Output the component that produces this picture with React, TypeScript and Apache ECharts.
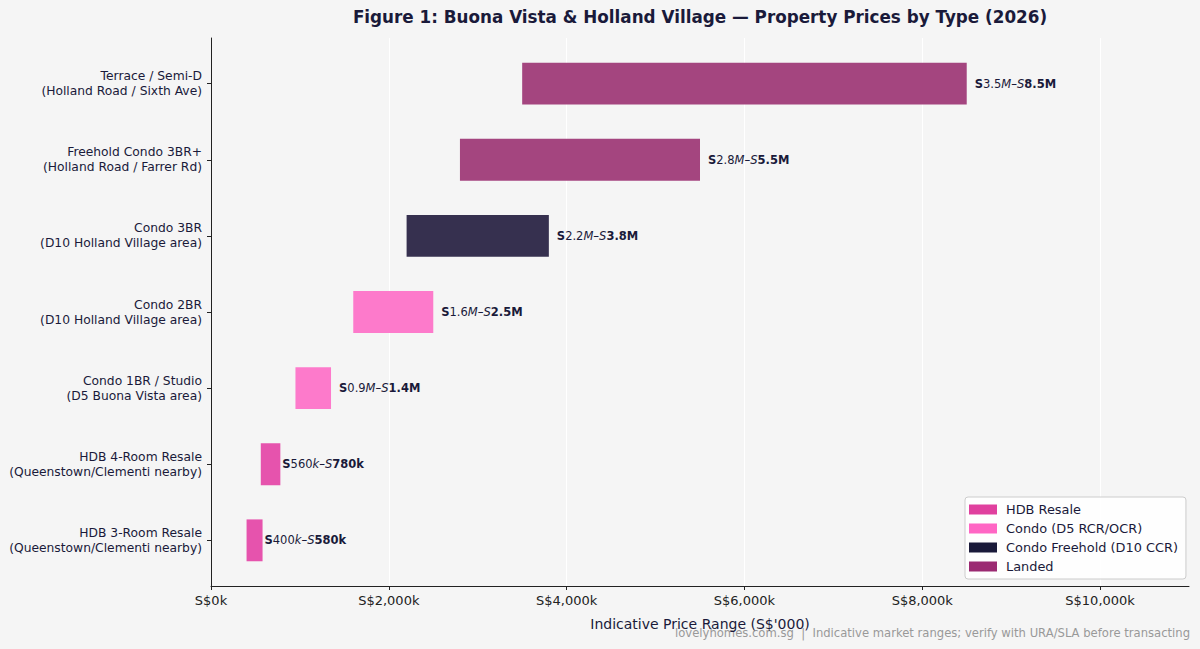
import React, { useEffect, useRef } from "react";
import * as echarts from "echarts";

const categories = [
  "Terrace / Semi-D\n(Holland Road / Sixth Ave)",
  "Freehold Condo 3BR+\n(Holland Road / Farrer Rd)",
  "Condo 3BR\n(D10 Holland Village area)",
  "Condo 2BR\n(D10 Holland Village area)",
  "Condo 1BR / Studio\n(D5 Buona Vista area)",
  "HDB 4-Room Resale\n(Queenstown/Clementi nearby)",
  "HDB 3-Room Resale\n(Queenstown/Clementi nearby)",
];
const lows = [3500, 2800, 2200, 1600, 950, 560, 400];
const highs = [8500, 5500, 3800, 2500, 1350, 780, 580];
const groups = ["Landed", "Landed", "Condo Freehold (D10 CCR)", "Condo (D5 RCR/OCR)", "Condo (D5 RCR/OCR)", "HDB Resale", "HDB Resale"];
const groupNames = ["HDB Resale", "Condo (D5 RCR/OCR)", "Condo Freehold (D10 CCR)", "Landed"];
const barColors = ["#e653ad", "#fd7acb", "#36304f", "#a4457f"];
const legendColors = ["#e0409e", "#ff66c4", "#1a1a3a", "#9b2a72"];
const xTicks = [0, 2000, 4000, 6000, 8000, 10000];

const FONT = "DejaVu Sans";
const DARK = "#1a1a3a";

function fmtPart(v: number, useM: boolean) {
  return useM ? (v / 1000).toFixed(1) : String(v);
}

export default function App() {
  const ref = useRef<HTMLDivElement>(null);
  useEffect(() => {
    if (!ref.current) return;
    const chart = echarts.init(ref.current, undefined, { renderer: "svg" });
    const series = groupNames.map((g, gi) => {
      const data: number[][] = [];
      categories.forEach((_, i) => {
        if (groups[i] === g) data.push([lows[i], highs[i], i]);
      });
      return {
        type: "custom",
        name: g,
        itemStyle: { color: legendColors[gi] },
        encode: { x: [0, 1], y: 2 },
        data,
        renderItem: (params: any, api: any) => {
          const lo = api.value(0);
          const hi = api.value(1);
          const row = api.value(2);
          const p0 = api.coord([lo, row]);
          const p1 = api.coord([hi, row]);
          const h = api.size([0, 0.55])[1];
          const useM = hi >= 1000;
          const unit = useM ? "M" : "k";
          const pl = api.coord([hi + (useM ? 90 : 22), row]);
          const text = `{b|S}{n|${fmtPart(lo, useM)}}{i|${unit}–S}{b|${fmtPart(hi, useM)}${unit}}`;
          return {
            type: "group",
            children: [
              {
                type: "rect",
                shape: { x: p0[0], y: p0[1] - h / 2, width: p1[0] - p0[0], height: h },
                style: { fill: barColors[gi] },
              },
              {
                type: "text",
                x: pl[0],
                y: pl[1],
                style: {
                  text,
                  verticalAlign: "middle",
                  align: "left",
                  fill: DARK,
                  rich: {
                    b: { fontFamily: FONT, fontSize: 11.5, fontWeight: "bold", fill: DARK, color: DARK },
                    n: { fontFamily: FONT, fontSize: 11.5, fill: DARK, color: DARK },
                    i: { fontFamily: FONT, fontSize: 11.5, fontStyle: "italic", fill: DARK, color: DARK },
                  },
                },
              },
            ],
          };
        },
      };
    });

    chart.setOption({
      animation: false,
      backgroundColor: "#f5f5f5",
      grid: { left: 211, right: 11, top: 38, bottom: 63 },
      xAxis: {
        type: "value",
        min: 0,
        max: 11000,
        interval: 2000,
        name: "Indicative Price Range (S$'000)",
        nameLocation: "middle",
        nameGap: 31,
        nameTextStyle: { fontFamily: FONT, fontSize: 14, color: DARK },
        axisLine: { show: true, onZero: false, lineStyle: { color: "#222", width: 1 } },
        axisTick: { show: true, length: 4, customValues: xTicks, lineStyle: { color: "#222" } },
        axisLabel: {
          fontFamily: FONT,
          fontSize: 13,
          color: "#222",
          margin: 8,
          formatter: (v: number) => (xTicks.includes(v) ? "S$" + v.toLocaleString("en-US") + "k" : ""),
        },
        splitLine: { show: true, lineStyle: { color: "#ffffff", width: 1 } },
      },
      yAxis: {
        type: "value",
        inverse: true,
        min: -0.6,
        max: 6.6,
        axisLine: { show: true, onZero: false, lineStyle: { color: "#222", width: 1 } },
        axisTick: { show: true, length: 4, customValues: [0, 1, 2, 3, 4, 5, 6], lineStyle: { color: "#222" } },
        axisLabel: {
          customValues: [0, 1, 2, 3, 4, 5, 6],
          formatter: (v: number) => categories[Math.round(v)] ?? "",
          fontFamily: FONT,
          fontSize: 12.3,
          lineHeight: 15,
          color: DARK,
          align: "right",
          margin: 9,
        },
        splitLine: { show: false },
      },
      legend: {
        orient: "vertical",
        left: 965,
        top: 497,
        icon: "rect",
        itemWidth: 28,
        itemHeight: 10,
        itemGap: 4,
        padding: [5, 8, 5, 4],
        backgroundColor: "rgba(255,255,255,0.85)",
        borderColor: "#cccccc",
        borderWidth: 1,
        borderRadius: 3,
        textStyle: { fontFamily: FONT, fontSize: 12.9, color: DARK, lineHeight: 15, padding: [0, 0, 0, 4] },
        data: groupNames.map((g, gi) => ({ name: g, itemStyle: { color: legendColors[gi] } })),
      },
      graphic: [
        {
          type: "text",
          x: 700,
          y: 17,
          style: {
            text: "Figure 1: Buona Vista & Holland Village — Property Prices by Type (2026)",
            fontFamily: FONT,
            fontSize: 16.8,
            fontWeight: "bold",
            fill: DARK,
            align: "center",
            verticalAlign: "middle",
          },
        },
        {
          type: "text",
          x: 1190,
          y: 633,
          style: {
            text: "lovelyhomes.com.sg  |  Indicative market ranges; verify with URA/SLA before transacting",
            fontFamily: FONT,
            fontSize: 11.6,
            fill: "#999999",
            align: "right",
            verticalAlign: "middle",
          },
        },
      ],
      series,
    });
    return () => chart.dispose();
  }, []);
  return (
    <div
      ref={ref}
      style={{ position: "fixed", left: 0, top: 0, width: 1200, height: 649, background: "#f5f5f5" }}
    />
  );
}
